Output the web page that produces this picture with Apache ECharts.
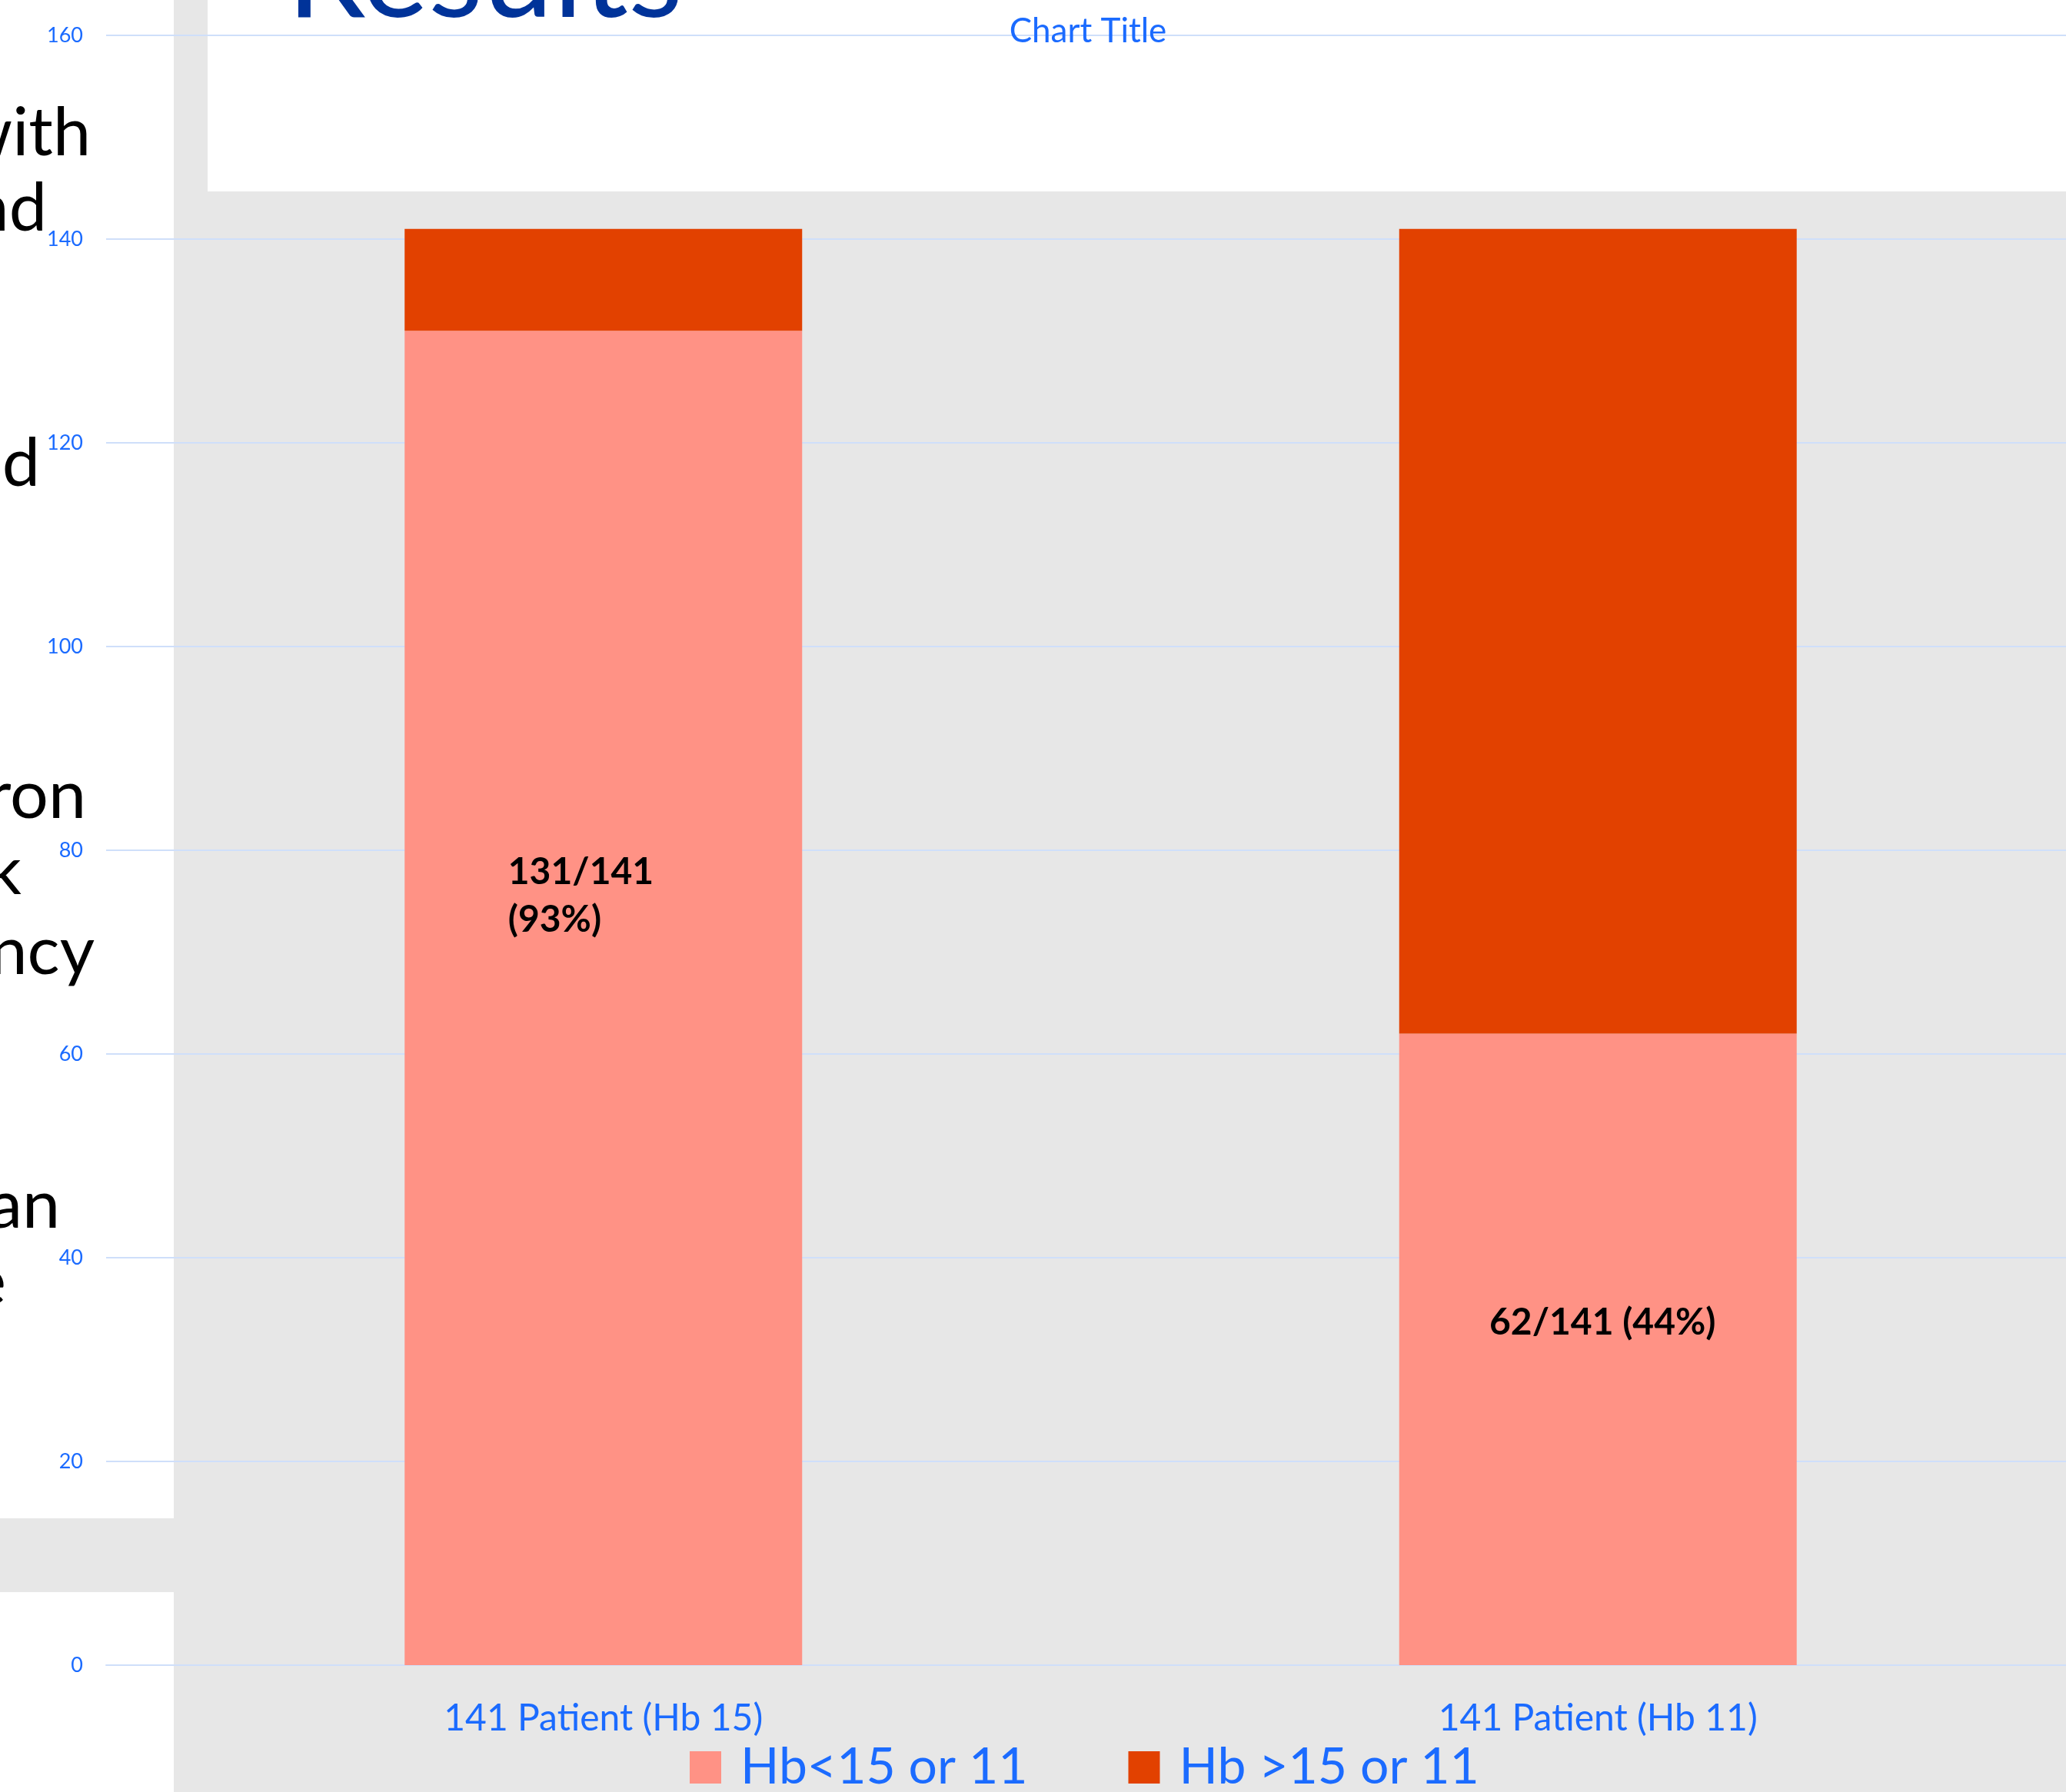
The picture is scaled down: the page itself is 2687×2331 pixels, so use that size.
<!DOCTYPE html>
<html>
<head>
<meta charset="utf-8">
<script src="https://cdn.jsdelivr.net/npm/echarts@6/dist/echarts.min.js"></script>
<style>
html,body{margin:0;padding:0;background:#ffffff;overflow:hidden;}
#chart{width:2725px;height:2331px;}
</style>
</head>
<body>
<div id="chart"></div>
<script>
// ---- data ----
const categories = ['141 Patient (Hb 15)', '141 Patient (Hb 11)'];
const seriesNames = ['Hb<15 or 11', 'Hb >15 or 11'];
const belowValues = [131, 62];
const aboveValues = [10, 79];
const dataLabels = ['131/141\n(93%)', '62/141 (44%)'];
const yMin = 0, yMax = 160, yInterval = 20;
const chartTitle = 'Chart Title';
const slideHeading = 'Results';
const slideFragments = ['with', 'and', 'd', 'ron', 'k', 'ncy', 'an', 'the'];

// ---- styling / layout ----
const BLUE = '#1b6bff';
const GRID_COLOR = '#cfdffa';
const FONT = 'Lato, "Open Sans", sans-serif';
const fragmentLayout = [
  {right: 118, base: 200}, {right: 61, base: 298}, {right: 52, base: 630},
  {right: 112, base: 1062}, {right: 28, base: 1161}, {right: 123, base: 1265},
  {right: 78, base: 1595}, {right: 8, base: 1695}
];
const labelLayouts = [
  {position: 'inside', align: 'left', verticalAlign: 'middle', offset: [-124, -133], lineHeight: 62},
  {position: 'inside', align: 'center', verticalAlign: 'middle', offset: [6, -35], lineHeight: 62}
];

const graphics = [
  {type: 'rect', shape: {x: 0, y: 0, width: 226, height: 1975}, style: {fill: '#ffffff'}, z: -100, silent: true},
  {type: 'rect', shape: {x: 0, y: 2071, width: 226, height: 260}, style: {fill: '#ffffff'}, z: -100, silent: true},
  {type: 'rect', shape: {x: 270, y: 0, width: 2455, height: 249}, style: {fill: '#ffffff'}, z: -100, silent: true},
  {type: 'text', x: 373, y: 18 - 0.30 * 164, z: -90, silent: true,
   style: {text: slideHeading, fill: '#003399', font: '164px ' + FONT, textAlign: 'left', textVerticalAlign: 'middle'}}
];
slideFragments.forEach((t, i) => {
  const L = fragmentLayout[i];
  graphics.push({type: 'text', x: L.right, y: L.base - 0.30 * 88, z: -90, silent: true,
    style: {text: t, fill: '#000000', font: '88px ' + FONT, textAlign: 'right', textVerticalAlign: 'middle'}});
});

const chart = echarts.init(document.getElementById('chart'));
chart.setOption({
  backgroundColor: '#e7e7e7',
  animation: false,
  graphic: graphics,
  title: {
    text: chartTitle, left: 1410, top: 14, textAlign: 'center',
    textStyle: {color: BLUE, fontFamily: FONT, fontSize: 44, fontWeight: 'normal'}
  },
  legend: {
    data: seriesNames, left: 897, top: 2266, padding: 0,
    itemWidth: 41, itemHeight: 42, itemGap: 131, icon: 'rect',
    textStyle: {color: BLUE, fontFamily: FONT, fontSize: 66, padding: [0, 0, 0, 20]}
  },
  grid: {left: 138, right: 0, top: 46, bottom: 165, containLabel: false},
  xAxis: {
    type: 'category', data: categories,
    axisLine: {show: true, lineStyle: {color: GRID_COLOR, width: 2}},
    axisTick: {show: false},
    axisLabel: {color: BLUE, fontFamily: FONT, fontSize: 48, margin: 46}
  },
  yAxis: {
    type: 'value', min: yMin, max: yMax, interval: yInterval,
    axisLine: {show: false}, axisTick: {show: false},
    splitLine: {lineStyle: {color: GRID_COLOR, width: 2}},
    axisLabel: {color: BLUE, fontFamily: FONT, fontSize: 27, margin: 30}
  },
  series: [
    {
      name: seriesNames[0], type: 'bar', stack: 'total', barWidth: 517,
      itemStyle: {color: '#ff9285'},
      label: {show: true, color: '#000000', fontFamily: FONT, fontWeight: 'bold', fontSize: 48,
        formatter: p => dataLabels[p.dataIndex]},
      data: belowValues.map((v, i) => ({value: v, label: labelLayouts[i]}))
    },
    {
      name: seriesNames[1], type: 'bar', stack: 'total', barWidth: 517,
      itemStyle: {color: '#e24100'},
      data: aboveValues
    }
  ]
});
</script>
</body>
</html>
